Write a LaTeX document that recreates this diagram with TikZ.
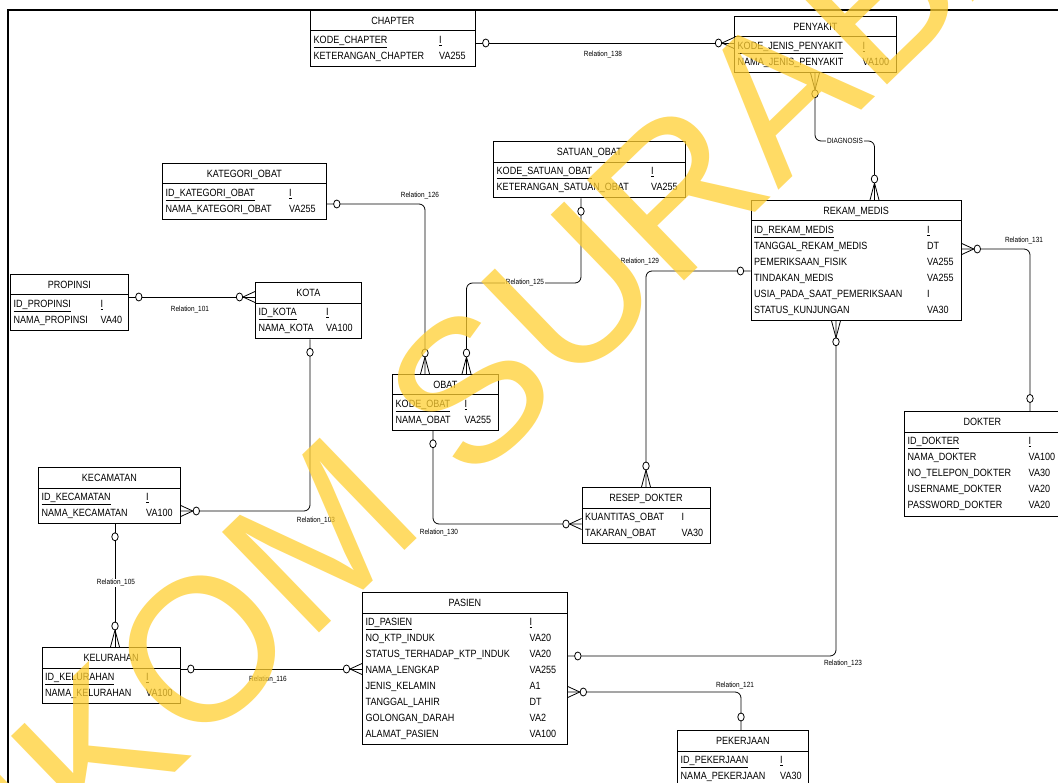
\documentclass[tikz,border=0pt]{standalone}
\usepackage{fontspec}
\newfontfamily\erfont[FakeStretch=0.86]{Liberation Sans}
\newfontfamily\wmfont{Liberation Sans}
\definecolor{wmyellow}{RGB}{255,207,50}

\begin{document}
\begin{tikzpicture}[x=1pt, y=1pt, every node/.style={black},
  rel/.style={line width=0.8pt},
  entity/.style 2 args={draw, line width=0.8pt, anchor=north west, inner sep=0pt,
    minimum width=#1pt, minimum height=#2pt,
    path picture={\draw[line width=0.8pt] ([yshift=-20.5pt]path picture bounding box.north west)
      -- ([yshift=-20.5pt]path picture bounding box.north east);}},
  etitle/.style={anchor=base, inner sep=0pt, font=\erfont\fontsize{10.5}{12}\selectfont},
  attrs/.style={anchor=north west, inner sep=0pt, font=\erfont\fontsize{10.5}{16}\selectfont},
  rlabel/.style={inner sep=1pt, font=\erfont\fontsize{7.5}{9}\selectfont},
  wmark/.style={text=wmyellow, rotate=44, inner sep=0pt, opacity=0.75, text opacity=0.75,
    font=\wmfont\fontsize{203}{203}\selectfont},
  crowh/.pic={\draw[rel] (0,0) -- (12,5.5) (0,0) -- (12,-5.5);},
  crowv/.pic={\draw[rel] (0,0) -- (17,4.5) (0,0) -- (17,-4.5);},
  optc/.pic={\draw[rel, fill=white] (0,0) ellipse (3.2 and 4);}]
\useasboundingbox (0,0) rectangle (1058,-783);
\fill[white] (0,0) rectangle (1058,-783);
\draw[line width=2pt] (8,-783) -- (8,-10) -- (1058,-10);

% entities
\node[entity={165}{56}] (chapter) at (310,-10) {};
\node[etitle] (chapter-t) at ([yshift=-14.3pt]chapter.north) {CHAPTER};
\node[attrs] (chapter-a) at ([xshift=3.5pt,yshift=-22pt]chapter.north west) {\begin{tabular}{@{}p{125.5pt}@{}l@{}}
  \underline{KODE\_CHAPTER} & \underline{I}\\ KETERANGAN\_CHAPTER & VA255\end{tabular}};

\node[entity={162}{56}] (penyakit) at (734,-16) {};
\node[etitle] (penyakit-t) at ([yshift=-14.3pt]penyakit.north) {PENYAKIT};
\node[attrs] (penyakit-a) at ([xshift=3.5pt,yshift=-22pt]penyakit.north west) {\begin{tabular}{@{}p{125pt}@{}l@{}}
  \underline{KODE\_JENIS\_PENYAKIT} & \underline{I}\\ NAMA\_JENIS\_PENYAKIT & VA100\end{tabular}};

\node[entity={192}{56}] (satuan) at (493,-141.5) {};
\node[etitle] (satuan-t) at ([yshift=-14.3pt]satuan.north) {SATUAN\_OBAT};
\node[attrs] (satuan-a) at ([xshift=3.5pt,yshift=-22pt]satuan.north west) {\begin{tabular}{@{}p{154.5pt}@{}l@{}}
  \underline{KODE\_SATUAN\_OBAT} & \underline{I}\\ KETERANGAN\_SATUAN\_OBAT & VA255\end{tabular}};

\node[entity={164}{56}] (kategori) at (162,-163) {};
\node[etitle] (kategori-t) at ([yshift=-14.3pt]kategori.north) {KATEGORI\_OBAT};
\node[attrs] (kategori-a) at ([xshift=3.5pt,yshift=-22pt]kategori.north west) {\begin{tabular}{@{}p{123.5pt}@{}l@{}}
  \underline{ID\_KATEGORI\_OBAT} & \underline{I}\\ NAMA\_KATEGORI\_OBAT & VA255\end{tabular}};

\node[entity={118}{56}] (propinsi) at (10,-274) {};
\node[etitle] (propinsi-t) at ([yshift=-14.3pt]propinsi.north) {PROPINSI};
\node[attrs] (propinsi-a) at ([xshift=3.5pt,yshift=-22pt]propinsi.north west) {\begin{tabular}{@{}p{87pt}@{}l@{}}
  \underline{ID\_PROPINSI} & \underline{I}\\ NAMA\_PROPINSI & VA40\end{tabular}};

\node[entity={106}{56}] (kota) at (255,-282.5) {};
\node[etitle] (kota-t) at ([yshift=-14.3pt]kota.north) {KOTA};
\node[attrs] (kota-a) at ([xshift=3.5pt,yshift=-22pt]kota.north west) {\begin{tabular}{@{}p{67.5pt}@{}l@{}}
  \underline{ID\_KOTA} & \underline{I}\\ NAMA\_KOTA & VA100\end{tabular}};

\node[entity={106}{56}] (obat) at (392,-374) {};
\node[etitle] (obat-t) at ([yshift=-14.3pt]obat.north) {OBAT};
\node[attrs] (obat-a) at ([xshift=3.5pt,yshift=-22pt]obat.north west) {\begin{tabular}{@{}p{69pt}@{}l@{}}
  \underline{KODE\_OBAT} & \underline{I}\\ NAMA\_OBAT & VA255\end{tabular}};

\node[entity={210.5}{120}] (rekam) at (750.5,-200) {};
\node[etitle] (rekam-t) at ([yshift=-14.3pt]rekam.north) {REKAM\_MEDIS};
\node[attrs] (rekam-a) at ([xshift=3.5pt,yshift=-22pt]rekam.north west) {\begin{tabular}{@{}p{173pt}@{}l@{}}
  \underline{ID\_REKAM\_MEDIS} & \underline{I}\\ TANGGAL\_REKAM\_MEDIS & DT\\
  PEMERIKSAAN\_FISIK & VA255\\ TINDAKAN\_MEDIS & VA255\\
  USIA\_PADA\_SAAT\_PEMERIKSAAN & I\\ STATUS\_KUNJUNGAN & VA30\end{tabular}};

\node[entity={158}{104}] (dokter) at (904,-411.5) {};
\node[etitle] (dokter-t) at ([yshift=-14.3pt,xshift=-1pt]dokter.north) {DOKTER};
\node[attrs] (dokter-a) at ([xshift=3.5pt,yshift=-22pt]dokter.north west) {\begin{tabular}{@{}p{121pt}@{}l@{}}
  \underline{ID\_DOKTER} & \underline{I}\\ NAMA\_DOKTER & VA100\\ NO\_TELEPON\_DOKTER & VA30\\
  USERNAME\_DOKTER & VA20\\ PASSWORD\_DOKTER & VA20\end{tabular}};

\node[entity={142}{56}] (kecamatan) at (38,-467) {};
\node[etitle] (kecamatan-t) at ([yshift=-14.3pt]kecamatan.north) {KECAMATAN};
\node[attrs] (kecamatan-a) at ([xshift=3.5pt,yshift=-22pt]kecamatan.north west) {\begin{tabular}{@{}p{104.5pt}@{}l@{}}
  \underline{ID\_KECAMATAN} & \underline{I}\\ NAMA\_KECAMATAN & VA100\end{tabular}};

\node[entity={138.5}{56}] (kelurahan) at (41.5,-647) {};
\node[etitle] (kelurahan-t) at ([yshift=-14.3pt]kelurahan.north) {KELURAHAN};
\node[attrs] (kelurahan-a) at ([xshift=3.5pt,yshift=-22pt]kelurahan.north west) {\begin{tabular}{@{}p{101pt}@{}l@{}}
  \underline{ID\_KELURAHAN} & \underline{I}\\ NAMA\_KELURAHAN & VA100\end{tabular}};

\node[entity={128}{56}] (resep) at (581.5,-487) {};
\node[etitle] (resep-t) at ([yshift=-14.3pt]resep.north) {RESEP\_DOKTER};
\node[attrs] (resep-a) at ([xshift=3.5pt,yshift=-22pt]resep.north west) {\begin{tabular}{@{}p{96.5pt}@{}l@{}}
  KUANTITAS\_OBAT & I\\ TAKARAN\_OBAT & VA30\end{tabular}};

\node[entity={205}{152}] (pasien) at (362,-592) {};
\node[etitle] (pasien-t) at ([yshift=-14.3pt]pasien.north) {PASIEN};
\node[attrs] (pasien-a) at ([xshift=3.5pt,yshift=-22pt]pasien.north west) {\begin{tabular}{@{}p{164pt}@{}l@{}}
  \underline{ID\_PASIEN} & \underline{I}\\ NO\_KTP\_INDUK & VA20\\ STATUS\_TERHADAP\_KTP\_INDUK & VA20\\
  NAMA\_LENGKAP & VA255\\ JENIS\_KELAMIN & A1\\ TANGGAL\_LAHIR & DT\\
  GOLONGAN\_DARAH & VA2\\ ALAMAT\_PASIEN & VA100\end{tabular}};

\node[entity={131}{56}] (pekerjaan) at (677,-730) {};
\node[etitle] (pekerjaan-t) at ([yshift=-14.3pt]pekerjaan.north) {PEKERJAAN};
\node[attrs] (pekerjaan-a) at ([xshift=3.5pt,yshift=-22pt]pekerjaan.north west) {\begin{tabular}{@{}p{99.5pt}@{}l@{}}
  \underline{ID\_PEKERJAAN} & \underline{I}\\ NAMA\_PEKERJAAN & VA30\end{tabular}};

% relations
\draw[rel] ([yshift=-33pt]chapter.north east) coordinate (r138a) -- ([yshift=-27pt]penyakit.north west) coordinate (r138b);
\pic at ([xshift=10pt]r138a) {optc};
\pic at ([xshift=-12pt]r138b) {crowh};
\pic at ([xshift=-15.5pt]r138b) {optc};
\node[rlabel] (l138) at (603,-55) {Relation\_138};

\draw[rel, rounded corners=6pt] ([xshift=81pt]penyakit.south west) coordinate (dga) |- (845,-141)
  -| ([xshift=124pt]rekam.north west) coordinate (dgb);
\pic[rotate=90] at ([yshift=-17pt]dga) {crowv};
\pic at ([yshift=-21pt]dga) {optc};
\pic[rotate=-90] at ([yshift=17pt]dgb) {crowv};
\pic at ([yshift=21pt]dgb) {optc};
\node[rlabel, fill=white] (ldg) at (845,-141) {DIAGNOSIS};

\draw[rel, rounded corners=6pt] ([yshift=-41pt]kategori.north east) coordinate (r126a) -| ([xshift=33pt]obat.north west) coordinate (r126b);
\pic at ([xshift=10pt]r126a) {optc};
\pic[rotate=-90] at ([yshift=17pt]r126b) {crowv};
\pic at ([yshift=21pt]r126b) {optc};
\node[rlabel] (l126) at (420,-196) {Relation\_126};

\draw[rel, rounded corners=6pt] ([xshift=88pt]satuan.south west) coordinate (r125a) |- (525,-283)
  -| ([xshift=74.5pt]obat.north west) coordinate (r125b);
\pic at ([yshift=-13pt]r125a) {optc};
\pic[rotate=-90] at ([yshift=17pt]r125b) {crowv};
\pic at ([yshift=21pt]r125b) {optc};
\node[rlabel, fill=white] (l125) at (525,-283) {Relation\_125};

\draw[rel, rounded corners=6pt] ([yshift=-71pt]rekam.north west) coordinate (r129a) -| ([xshift=64.5pt]resep.north west) coordinate (r129b);
\pic at ([xshift=-10pt]r129a) {optc};
\pic[rotate=-90] at ([yshift=17pt]r129b) {crowv};
\pic at ([yshift=21pt]r129b) {optc};
\node[rlabel] (l129) at (640,-262) {Relation\_129};

\draw[rel, rounded corners=6pt] ([yshift=-49pt]rekam.north east) coordinate (r131a) -| ([xshift=126pt]dokter.north west) coordinate (r131b);
\pic[rotate=180] at ([xshift=12pt]r131a) {crowh};
\pic at ([xshift=15.5pt]r131a) {optc};
\pic at ([yshift=13pt]r131b) {optc};
\node[rlabel] (l131) at (1024,-241) {Relation\_131};

\draw[rel] ([yshift=-23pt]propinsi.north east) coordinate (r101a) -- ([yshift=-14.5pt]kota.north west) coordinate (r101b);
\pic at ([xshift=10pt]r101a) {optc};
\pic at ([xshift=-12pt]r101b) {crowh};
\pic at ([xshift=-15.5pt]r101b) {optc};
\node[rlabel] (l101) at (190,-310) {Relation\_101};

\draw[rel, rounded corners=6pt] ([xshift=55pt]kota.south west) coordinate (r103a) |- ([yshift=-44pt]kecamatan.north east) coordinate (r103b);
\pic at ([yshift=-13pt]r103a) {optc};
\pic[rotate=180] at ([xshift=12pt]r103b) {crowh};
\pic at ([xshift=15.5pt]r103b) {optc};
\node[rlabel] (l103) at (316,-521) {Relation\_103};

\draw[rel] ([xshift=77pt]kecamatan.south west) coordinate (r105a) -- ([xshift=73.5pt]kelurahan.north west) coordinate (r105b);
\pic at ([yshift=-13pt]r105a) {optc};
\pic[rotate=-90] at ([yshift=17pt]r105b) {crowv};
\pic at ([yshift=21pt]r105b) {optc};
\node[rlabel, fill=white] (l105) at (116,-583) {Relation\_105};

\draw[rel] ([yshift=-22pt]kelurahan.north east) coordinate (r116a) -- ([yshift=-77pt]pasien.north west) coordinate (r116b);
\pic at ([xshift=10pt]r116a) {optc};
\pic at ([xshift=-12pt]r116b) {crowh};
\pic at ([xshift=-15.5pt]r116b) {optc};
\node[rlabel] (l116) at (268,-680) {Relation\_116};

\draw[rel, rounded corners=6pt] ([xshift=41pt]obat.south west) coordinate (r130a) |- ([yshift=-37pt]resep.north west) coordinate (r130b);
\pic at ([yshift=-13pt]r130a) {optc};
\pic at ([xshift=-12pt]r130b) {crowh};
\pic at ([xshift=-15.5pt]r130b) {optc};
\node[rlabel] (l130) at (439,-533) {Relation\_130};

\draw[rel, rounded corners=6pt] ([xshift=85.5pt]rekam.south west) coordinate (r123a) |- ([yshift=-64pt]pasien.north east) coordinate (r123b);
\pic[rotate=90] at ([yshift=-17pt]r123a) {crowv};
\pic at ([yshift=-21pt]r123a) {optc};
\pic at ([xshift=10pt]r123b) {optc};
\node[rlabel] (l123) at (843,-664) {Relation\_123};

\draw[rel, rounded corners=6pt] ([yshift=-100pt]pasien.north east) coordinate (r121a) -| ([xshift=64pt]pekerjaan.north west) coordinate (r121b);
\pic[rotate=180] at ([xshift=12pt]r121a) {crowh};
\pic at ([xshift=15.5pt]r121a) {optc};
\pic at ([yshift=13pt]r121b) {optc};
\node[rlabel] (l121) at (735,-686) {Relation\_121};

% watermark
\node[wmark] (wm) at (508,-354) {STIKOM SURABAYA};
\end{tikzpicture}
\end{document}
